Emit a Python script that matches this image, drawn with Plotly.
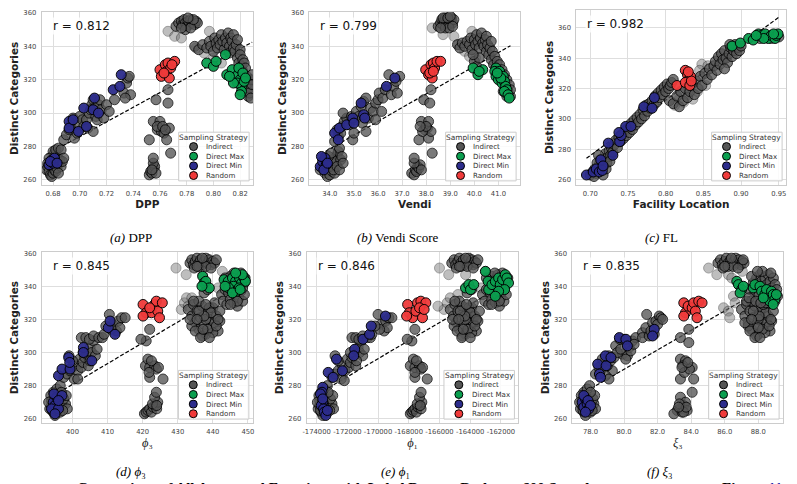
import plotly.graph_objects as go

# ---------------------------------------------------------------- data
Y_TICKS = [260, 280, 300, 320, 340, 360]
A_TICKS = [0.68, 0.70, 0.72, 0.74, 0.76, 0.78, 0.80, 0.82]
B_TICKS = [34.0, 35.0, 36.0, 37.0, 38.0, 39.0, 40.0, 41.0]
C_TICKS = [0.70, 0.75, 0.80, 0.85, 0.90, 0.95]
D_TICKS = [400, 410, 420, 430, 440, 450]
E_TICKS = [-174000, -172000, -170000, -168000, -166000, -164000, -162000]
F_TICKS = [78.0, 80.0, 82.0, 84.0, 86.0, 88.0]

STRATEGIES = ["Indirect", "Direct Max", "Direct Min", "Random"]
R_VALUES = [0.812, 0.799, 0.982, 0.845, 0.846, 0.835]
X_TITLES = ["<b>DPP</b>", "<b>Vendi</b>", "<b>Facility Location</b>",
            "<i>ϕ</i>₃", "<i>ϕ</i>₁", "<i>ξ</i>₃"]
CAPTIONS = ["<i>(a)</i> DPP", "<i>(b)</i> Vendi Score", "<i>(c)</i> FL",
            "<i>(d) ϕ</i>₃", "<i>(e) ϕ</i>₁", "<i>(f) ξ</i>₃"]

# ---- (a) DPP
A_INDIRECT = [
    (0.675, 266), (0.676, 268), (0.677, 265), (0.678, 263), (0.679, 262), (0.680, 264), (0.681, 266), (0.682, 265),
    (0.683, 267), (0.684, 270), (0.685, 272), (0.683, 274), (0.681, 276), (0.680, 277), (0.682, 278), (0.684, 279),
    (0.686, 278), (0.679, 271), (0.677, 273), (0.686, 268), (0.687, 271), (0.676, 270), (0.684, 264), (0.688, 273),
    (0.688, 284), (0.690, 287), (0.692, 290), (0.693, 293), (0.695, 297), (0.696, 285), (0.698, 288), (0.699, 294),
    (0.700, 298), (0.702, 296), (0.703, 292), (0.705, 296), (0.706, 291), (0.707, 300), (0.709, 305), (0.710, 308),
    (0.711, 303), (0.712, 298), (0.713, 296), (0.714, 305), (0.715, 308), (0.716, 302), (0.718, 297), (0.720, 305),
    (0.722, 301), (0.710, 289), (0.708, 302), (0.726, 308), (0.733, 312), (0.735, 318), (0.736, 321), (0.737, 322),
    (0.738, 311), (0.734, 309),
    (0.752, 263), (0.753, 265), (0.754, 264), (0.755, 267), (0.756, 268), (0.757, 264), (0.755, 270), (0.755, 273),
    (0.754, 266), (0.752, 284), (0.755, 295), (0.758, 290), (0.760, 295), (0.761, 289), (0.763, 288), (0.765, 284),
    (0.767, 291), (0.768, 276), (0.757, 308), (0.766, 306), (0.766, 314), (0.758, 292), (0.762, 292), (0.764, 290),
    (0.772, 352), (0.774, 354), (0.776, 355), (0.777, 353), (0.778, 356), (0.779, 354), (0.780, 352), (0.781, 355),
    (0.782, 353), (0.783, 356), (0.784, 354), (0.785, 355), (0.786, 353), (0.787, 355), (0.788, 354), (0.779, 350),
    (0.783, 351), (0.776, 351), (0.785, 356), (0.781, 357),
    (0.786, 340), (0.789, 338), (0.792, 341), (0.795, 339), (0.797, 343), (0.798, 340), (0.800, 337), (0.801, 345),
    (0.802, 342), (0.803, 339), (0.804, 344), (0.805, 341), (0.806, 347), (0.807, 343), (0.808, 338), (0.809, 345),
    (0.810, 342), (0.811, 348), (0.812, 340), (0.812, 336), (0.813, 345), (0.814, 343), (0.815, 347), (0.815, 339),
    (0.816, 337), (0.817, 341), (0.818, 344), (0.818, 333), (0.819, 330), (0.820, 338), (0.820, 335), (0.821, 328),
    (0.822, 332), (0.822, 325), (0.823, 330), (0.823, 320), (0.824, 327), (0.824, 316), (0.825, 322), (0.825, 313),
    (0.826, 318), (0.826, 310), (0.827, 315), (0.827, 312), (0.828, 320), (0.828, 309), (0.829, 317), (0.829, 323)]
A_FAINT = [(0.766, 349), (0.771, 346), (0.776, 345), (0.797, 349), (0.787, 339), (0.793, 336), (0.800, 333), (0.806, 330)]
A_MAX = [(0.795, 330), (0.800, 328), (0.802, 331), (0.809, 335), (0.810, 323), (0.814, 326), (0.817, 322), (0.819, 327),
         (0.820, 320), (0.821, 316), (0.821, 313), (0.818, 318), (0.815, 318), (0.812, 322), (0.820, 311), (0.822, 324),
         (0.823, 319), (0.824, 321)]
A_MIN = [(0.677, 269), (0.679, 272), (0.680, 270), (0.681, 273), (0.678, 271), (0.683, 270), (0.692, 295), (0.692, 291),
         (0.695, 296), (0.699, 289), (0.703, 303), (0.705, 292), (0.711, 309), (0.710, 302), (0.714, 300), (0.725, 314),
         (0.730, 316), (0.731, 323)]
A_RAND = [(0.760, 326), (0.761, 322), (0.764, 329), (0.765, 325), (0.766, 330), (0.767, 321), (0.768, 327), (0.771, 331),
          (0.763, 324), (0.769, 329)]
A_FIT = [(0.675, 275.0), (0.829, 342.5)]

# ---- (b) Vendi
B_INDIRECT = [
    (33.6, 266), (33.7, 268), (33.8, 264), (33.9, 262), (34.0, 263), (34.1, 265), (34.2, 264), (33.75, 270),
    (33.85, 272), (34.0, 268), (34.1, 270), (34.2, 273), (34.3, 275), (34.35, 277), (34.4, 279), (34.25, 271),
    (34.15, 266), (34.45, 272), (34.5, 274), (33.95, 274), (34.05, 276), (34.3, 268), (34.4, 266), (34.55, 270),
    (34.2, 283), (34.35, 286), (34.3, 290), (34.45, 288), (34.5, 292), (34.6, 295), (34.7, 297), (34.55, 300),
    (34.8, 293), (34.9, 298), (34.95, 284), (35.0, 288), (35.05, 296), (35.1, 301), (35.2, 298), (35.3, 304),
    (35.35, 294), (35.4, 307), (35.5, 309), (35.5, 289), (35.6, 297), (35.7, 303), (35.8, 301), (35.9, 296),
    (35.9, 306), (36.0, 308), (36.05, 312), (36.15, 301), (36.2, 309), (36.3, 314), (36.45, 323), (36.55, 311),
    (36.65, 316), (36.8, 312), (36.9, 322), (36.75, 319),
    (37.4, 264), (37.5, 263), (37.55, 266), (37.6, 265), (37.65, 268), (37.7, 267), (37.75, 269), (37.8, 266),
    (37.5, 270), (37.5, 273), (37.7, 284), (37.8, 295), (37.95, 290), (38.05, 291), (38.1, 295), (38.1, 285),
    (38.2, 289), (38.25, 276), (37.9, 308), (38.15, 306), (38.2, 314), (37.85, 289), (38.0, 292), (37.75, 292),
    (38.5, 352), (38.6, 354), (38.65, 356), (38.7, 353), (38.75, 355), (38.8, 357), (38.85, 354), (38.9, 356),
    (38.95, 353), (39.0, 355), (39.05, 357), (39.1, 354), (39.15, 356), (38.8, 351), (38.95, 351), (39.1, 352),
    (38.7, 357), (38.9, 357), (39.0, 358), (38.6, 351),
    (39.3, 341), (39.4, 339), (39.5, 342), (39.6, 340), (39.7, 343), (39.8, 341), (39.85, 345), (39.9, 338),
    (40.0, 344), (40.05, 341), (40.1, 347), (40.15, 343), (40.2, 339), (40.25, 345), (40.3, 348), (40.35, 342),
    (40.4, 340), (40.45, 344), (40.5, 337), (40.5, 346), (40.55, 341), (40.6, 335), (40.65, 339), (40.7, 343),
    (40.7, 332), (40.75, 337), (40.8, 329), (40.85, 334), (40.9, 327), (40.95, 331), (41.0, 325), (41.05, 329),
    (41.1, 322), (41.15, 326), (41.2, 319), (41.25, 323), (41.3, 316), (41.35, 320), (41.4, 313), (41.45, 317),
    (41.5, 310), (41.5, 314), (40.0, 331), (40.1, 328), (40.2, 333), (39.95, 335), (41.2, 313), (41.35, 310)]
B_FAINT = [(38.25, 351), (38.7, 347), (39.15, 346), (39.9, 349), (39.35, 341), (39.6, 337), (40.05, 333), (39.8, 334)]
B_MAX = [(39.95, 327), (40.15, 323), (40.35, 326), (40.2, 325), (40.9, 327), (40.85, 325), (41.0, 323), (41.05, 325),
         (40.9, 322), (41.0, 320), (41.15, 318), (41.2, 322), (41.25, 319), (41.3, 316), (41.35, 314), (41.25, 313),
         (41.4, 311), (41.45, 309), (41.1, 321), (40.95, 324)]
B_MIN = [(33.6, 268), (33.7, 271), (33.8, 273), (33.85, 269), (33.75, 266), (33.65, 274), (33.9, 270), (34.2, 288),
         (34.35, 284), (34.4, 291), (34.7, 293), (34.95, 297), (35.0, 294), (35.3, 306), (35.4, 299), (35.45, 297),
         (36.35, 316), (36.7, 321)]
B_RAND = [(37.98, 326), (38.1, 323), (38.2, 329), (38.25, 321), (38.3, 330), (38.35, 327), (38.45, 331), (38.6, 331),
          (38.15, 324), (38.3, 325)]
B_FIT = [(33.6, 275.2), (41.5, 340.4)]

# ---- (c) Facility Location
C_INDIRECT = [
    (0.700, 263), (0.703, 265), (0.706, 267), (0.708, 264), (0.710, 268), (0.712, 270), (0.714, 266), (0.716, 272),
    (0.718, 269), (0.719, 274), (0.720, 277), (0.722, 271), (0.724, 275), (0.725, 279), (0.727, 276), (0.728, 281),
    (0.730, 278), (0.713, 273), (0.709, 271), (0.705, 262), (0.717, 263), (0.721, 267), (0.711, 276), (0.726, 272),
    (0.732, 283), (0.734, 286), (0.736, 281), (0.738, 288), (0.740, 285), (0.742, 290), (0.744, 287), (0.746, 292),
    (0.748, 289), (0.750, 294), (0.752, 291), (0.754, 297), (0.756, 293), (0.758, 299), (0.760, 296), (0.762, 301),
    (0.764, 298), (0.766, 303), (0.768, 300), (0.770, 306), (0.772, 302), (0.774, 309), (0.776, 305), (0.778, 310),
    (0.780, 307), (0.782, 312), (0.784, 309), (0.786, 315), (0.788, 311), (0.790, 317), (0.792, 314), (0.794, 319),
    (0.796, 316), (0.798, 321), (0.800, 318), (0.802, 323), (0.804, 320), (0.806, 322), (0.808, 324), (0.810, 326),
    (0.805, 312), (0.810, 310), (0.815, 315), (0.818, 308), (0.820, 318), (0.823, 312), (0.826, 320), (0.829, 314),
    (0.832, 318), (0.835, 323), (0.838, 316), (0.840, 325), (0.843, 320), (0.846, 328), (0.848, 322), (0.852, 330),
    (0.855, 326), (0.858, 333), (0.861, 329), (0.864, 335),
    (0.866, 338), (0.868, 332), (0.870, 341), (0.872, 336), (0.874, 343), (0.876, 339), (0.878, 345), (0.880, 340),
    (0.882, 337), (0.884, 343), (0.886, 347), (0.888, 341), (0.890, 345), (0.892, 349), (0.894, 343), (0.896, 347),
    (0.898, 345), (0.900, 348), (0.878, 333), (0.885, 349),
    (0.925, 353), (0.930, 355), (0.935, 354), (0.940, 353), (0.945, 355), (0.950, 354)]
C_FAINT = [(0.812, 309), (0.818, 313), (0.824, 311), (0.830, 316), (0.836, 313), (0.842, 318), (0.848, 336),
           (0.845, 332), (0.853, 322), (0.856, 335)]
C_MAX = [(0.888, 348), (0.899, 350), (0.910, 353), (0.916, 352), (0.923, 356), (0.927, 355), (0.932, 356), (0.936, 353),
         (0.940, 355), (0.945, 353), (0.947, 355), (0.949, 356), (0.943, 356), (0.930, 353), (0.920, 355)]
C_MIN = [(0.695, 263), (0.704, 265), (0.708, 267), (0.712, 265), (0.716, 266), (0.714, 273), (0.717, 269), (0.730, 276),
         (0.724, 284), (0.739, 285), (0.741, 289), (0.747, 295), (0.754, 295), (0.738, 291), (0.771, 308), (0.782, 307),
         (0.785, 314)]
C_RAND = [(0.815, 322), (0.826, 332), (0.829, 329), (0.831, 326), (0.833, 328), (0.826, 324), (0.832, 322), (0.834, 325),
          (0.830, 331)]
C_FIT = [(0.695, 274.0), (0.950, 367.0)]

# ---- (d) phi_3
D_INDIRECT = [
    (393.5, 266), (394, 268), (394.5, 264), (395, 262), (395.5, 265), (396, 267), (396.5, 264), (394, 271),
    (395, 273), (396, 270), (397, 268), (398, 269), (398.5, 266), (394.5, 276), (395.5, 278), (396.5, 280),
    (393.8, 274), (397.5, 272), (398.2, 274), (393.2, 270), (396.8, 276), (395.2, 269), (394.2, 265), (397.2, 265),
    (397.5, 285), (398.5, 287), (399.3, 289), (400.5, 284), (401, 292), (401.5, 289), (402, 296), (402.5, 291),
    (403, 294), (403.5, 297), (404, 299), (404.5, 292), (405, 303), (405.5, 300), (406, 307), (406.5, 298),
    (407, 302), (401.5, 284), (402.5, 309), (403.8, 309), (404.8, 308), (406, 310), (407.5, 309), (408.5, 309),
    (409, 311), (403, 300), (405, 295), (400, 295), (399, 298), (410.5, 323), (411.5, 317), (412.5, 313),
    (413, 319), (414, 321), (415, 321), (413.5, 315), (411, 314), (409.5, 316),
    (420.5, 263), (421, 264), (421.5, 265), (422, 266), (422.5, 264), (423, 267), (423.5, 268), (424, 266),
    (424.3, 270), (422.8, 269), (423.4, 273), (423.9, 276), (422, 285), (425.8, 284), (420.8, 292), (421.5, 296),
    (422, 291), (423.4, 292), (423.9, 290), (422.5, 295), (421, 307), (422, 314), (419.5, 308), (424.5, 291),
    (421.8, 288), (424, 268),
    (433.5, 354), (434, 356), (434.5, 353), (435, 355), (435.5, 357), (436, 354), (436.5, 356), (437, 353),
    (437.5, 355), (438, 357), (438.5, 354), (439, 356), (439.5, 353), (440, 355), (440.5, 354), (434.7, 351),
    (436, 352), (438, 352), (439.5, 351), (437, 357), (441, 356), (435.5, 352),
    (433, 326), (434, 322), (434.5, 329), (435, 318), (435.5, 325), (436, 314), (436.5, 321), (437, 328),
    (437.5, 317), (438, 311), (438.5, 324), (439, 320), (439.5, 315), (440, 327), (440.5, 318), (441, 322),
    (441.5, 313), (442, 319), (436, 331), (437, 310), (438, 320), (439, 327), (440, 312), (434, 316),
    (435, 313), (436.5, 309), (438.5, 314), (439.5, 324), (441, 316), (442, 325), (437.5, 322), (434.5, 331),
    (433.5, 320), (440.5, 330), (441.5, 320), (439, 309), (436, 325), (438, 329), (435.5, 320), (437.2, 314),
    (437.5, 336), (438.5, 338),
    (442.5, 335), (443, 331), (443.5, 338), (444, 329), (444.5, 336), (445, 332), (445.5, 339), (446, 330),
    (446.5, 335), (447, 328), (447.5, 333), (448, 337), (448.5, 331), (449, 335), (444, 343), (445, 346),
    (446, 344), (447, 347), (448, 345), (449, 342), (446.5, 341), (448.5, 339), (443.5, 345), (447.5, 340),
    (445.5, 342), (449.2, 345), (447, 331), (445, 329), (448, 348), (446, 348)]
D_FAINT = [(429.5, 351), (432.4, 347), (437.1, 347), (431, 326), (431.9, 330), (442.7, 349), (432.5, 333),
           (433, 328), (434, 333), (441.5, 339)]
D_MAX = [(437.1, 346), (437.5, 342), (438, 343), (439, 339), (436.9, 340), (443.2, 344), (444.4, 343), (445.6, 345),
         (446.5, 343), (447.6, 345), (448.2, 342), (448.9, 345), (449.3, 343), (445.9, 340), (446.8, 337), (447.5, 339),
         (444.5, 339), (443.5, 340), (445.6, 336), (448.4, 347), (446.5, 348), (447.8, 338)]
D_MIN = [(394.5, 270), (395, 268), (395.5, 273), (394, 266), (396, 266), (395, 263), (394.7, 275), (397, 274),
         (396, 271), (396, 286), (397, 290), (398.9, 297), (399.3, 290), (399.2, 294), (403.1, 303), (403.1, 300),
         (405.5, 295), (410.2, 315), (410.7, 319), (412.1, 311)]
D_RAND = [(420.1, 329), (421, 324), (422.5, 324), (423.4, 329), (423.9, 331), (424.3, 325), (424.8, 321), (425.6, 330),
          (420.1, 322), (422, 327)]
D_FIT = [(393.0, 272.0), (450.0, 343.5)]

# ---- (e) phi_1
E_INDIRECT = [
    (-173900, 266), (-173800, 268), (-173700, 264), (-173600, 262), (-173500, 265), (-173400, 267), (-173300, 264),
    (-173800, 271), (-173600, 273), (-173400, 270), (-173200, 268), (-173000, 269), (-172900, 266), (-173700, 276),
    (-173500, 278), (-173300, 280), (-173850, 274), (-173100, 272), (-172950, 274), (-173950, 270), (-173250, 276),
    (-173550, 269), (-173750, 265), (-173150, 265),
    (-173000, 285), (-172800, 287), (-172600, 289), (-172400, 284), (-172300, 292), (-172150, 289), (-172000, 296),
    (-171900, 291), (-171800, 294), (-171700, 297), (-171550, 299), (-171450, 292), (-171300, 303), (-171200, 300),
    (-171100, 307), (-171000, 298), (-170900, 302), (-172200, 283), (-171700, 309), (-171450, 309), (-171250, 308),
    (-171000, 310), (-170700, 309), (-170500, 309), (-170400, 311), (-171800, 300), (-171400, 295), (-172600, 295),
    (-172800, 298), (-170000, 323), (-169800, 317), (-169600, 313), (-169500, 319), (-169300, 321), (-169100, 321),
    (-169400, 315), (-169900, 314), (-170200, 316),
    (-167900, 263), (-167800, 264), (-167700, 265), (-167600, 266), (-167500, 264), (-167400, 267), (-167300, 268),
    (-167200, 266), (-167150, 270), (-167450, 269), (-167300, 273), (-167200, 276), (-167600, 285), (-166800, 284),
    (-167900, 292), (-167700, 296), (-167600, 291), (-167300, 292), (-167200, 290), (-167500, 295), (-167800, 307),
    (-167600, 314), (-168100, 308), (-167100, 291), (-167600, 288), (-167250, 268),
    (-165200, 354), (-165050, 356), (-164950, 353), (-164800, 355), (-164700, 357), (-164600, 354), (-164450, 356),
    (-164350, 353), (-164250, 355), (-164100, 357), (-164000, 354), (-163900, 356), (-163800, 353), (-163700, 355),
    (-163600, 354), (-164900, 351), (-164600, 352), (-164200, 352), (-163800, 351), (-164300, 357), (-163500, 356),
    (-164700, 352),
    (-165300, 326), (-165100, 322), (-165000, 329), (-164900, 318), (-164800, 325), (-164700, 314), (-164600, 321),
    (-164500, 328), (-164400, 317), (-164300, 311), (-164200, 324), (-164100, 320), (-164000, 315), (-163900, 327),
    (-163800, 318), (-163700, 322), (-163600, 313), (-163500, 319), (-164700, 331), (-164500, 310), (-164300, 320),
    (-164100, 327), (-163900, 312), (-165050, 316), (-164850, 313), (-164550, 309), (-164150, 314), (-163950, 324),
    (-163700, 316), (-163400, 325), (-164350, 322), (-165000, 331), (-165150, 320), (-163800, 330), (-163600, 320),
    (-164000, 309), (-164650, 325), (-164250, 329), (-164750, 320), (-164450, 314), (-164200, 336), (-163900, 338),
    (-163200, 335), (-163050, 331), (-162950, 338), (-162800, 329), (-162700, 336), (-162600, 332), (-162450, 339),
    (-162350, 330), (-162250, 335), (-162100, 328), (-162000, 333), (-161900, 337), (-161800, 331), (-161650, 335),
    (-162800, 343), (-162600, 346), (-162400, 344), (-162200, 347), (-162000, 345), (-161700, 342), (-162200, 341),
    (-161750, 339), (-162950, 345), (-161950, 340), (-162450, 342), (-161550, 345), (-162100, 331), (-162600, 329),
    (-161900, 348), (-162400, 348)]
E_FAINT = [(-166000, 351), (-165400, 347), (-164300, 347), (-165700, 326), (-165500, 330), (-163000, 349),
           (-165300, 333), (-163300, 339), (-166100, 328), (-164800, 335)]
E_MAX = [(-164305, 339), (-164090, 341), (-163983, 338), (-163768, 341), (-163012, 349), (-162840, 343),
         (-162796, 338), (-162581, 341), (-162366, 343), (-162150, 345), (-162043, 341), (-161892, 344),
         (-161720, 347), (-161612, 345), (-161505, 342), (-161763, 338), (-162150, 337), (-162366, 334)]
E_MIN = [(-173600, 279), (-173650, 276), (-173750, 275), (-173600, 270), (-173700, 268), (-173550, 266),
         (-173500, 264), (-173400, 262), (-173600, 272), (-173300, 265), (-173246, 288), (-172923, 285),
         (-172707, 296), (-172320, 289), (-171522, 302), (-171587, 298), (-170984, 308), (-170553, 311),
         (-170445, 316), (-169519, 322)]
E_RAND = [(-168075, 329), (-167968, 324), (-167752, 321), (-167537, 325), (-167429, 330), (-167214, 331),
          (-167106, 321), (-166890, 330), (-168140, 322), (-167300, 327), (-167000, 326)]
E_FIT = [(-173900, 275.0), (-161400, 343.2)]

# ---- (f) xi_3
F_INDIRECT = [
    (77.4, 266), (77.5, 268), (77.6, 264), (77.7, 262), (77.8, 265), (77.9, 267), (78.0, 264), (77.5, 271),
    (77.7, 273), (77.9, 270), (78.1, 268), (78.2, 269), (78.3, 266), (77.6, 276), (77.8, 278), (77.95, 280),
    (77.45, 274), (78.15, 272), (78.25, 274), (77.35, 270), (78.0, 276), (77.75, 269), (77.55, 265), (78.1, 265),
    (78.3, 287), (78.6, 289), (78.8, 294), (79.1, 298), (79.5, 304), (79.75, 308), (79.9, 299), (80.2, 298),
    (80.5, 307), (80.7, 309), (80.3, 303), (80.0, 308), (81.1, 312), (81.3, 315), (81.35, 323), (81.7, 318),
    (81.9, 319), (82.1, 322), (82.2, 321), (81.8, 311), (79.3, 289), (81.1, 309), (78.5, 291), (78.9, 286),
    (79.0, 292), (79.2, 295), (79.4, 297), (79.6, 300), (79.8, 302), (80.1, 296), (80.4, 301), (80.6, 305),
    (81.5, 310), (81.6, 313), (82.0, 317), (82.3, 320), (78.7, 296), (79.1, 284),
    (83.36, 309), (83.86, 306), (83.86, 314), (83.36, 296), (83.66, 295), (83.5, 292), (84.06, 291), (83.36, 284),
    (84.15, 284), (84.06, 276), (83.36, 273), (83.17, 265), (83.36, 266), (83.56, 268), (83.66, 270), (83.76, 265),
    (82.97, 263), (83.46, 264), (83.6, 288), (83.9, 290), (83.3, 269), (83.55, 264), (83.7, 267), (83.45, 291),
    (83.8, 294), (83.25, 267),
    (85.6, 354), (85.75, 356), (85.85, 353), (86.0, 355), (86.1, 357), (86.2, 354), (86.35, 356), (86.45, 353),
    (86.55, 355), (86.65, 357), (86.75, 354), (86.85, 356), (86.95, 353), (87.05, 355), (87.15, 354), (85.9, 351),
    (86.2, 352), (86.5, 352), (86.8, 351), (86.4, 357), (87.1, 356), (86.0, 352),
    (87.0, 326), (87.2, 322), (87.3, 329), (87.4, 318), (87.5, 325), (87.6, 314), (87.7, 321), (87.8, 328),
    (87.9, 317), (88.0, 311), (88.1, 324), (88.2, 320), (88.3, 315), (88.4, 327), (88.5, 318), (88.6, 322),
    (88.7, 313), (88.8, 319), (87.6, 331), (87.9, 310), (88.0, 320), (88.2, 327), (88.4, 312), (87.4, 316),
    (87.5, 313), (87.8, 309), (88.25, 314), (88.45, 324), (88.65, 316), (88.9, 325), (88.05, 322), (87.3, 331),
    (87.2, 318), (88.6, 330), (88.75, 320), (88.1, 309), (87.7, 325), (88.3, 329), (87.6, 320), (88.0, 315),
    (87.5, 338), (87.7, 342), (87.8, 336), (87.9, 345), (88.0, 340), (88.1, 347), (88.2, 343), (88.3, 338),
    (88.4, 345), (88.5, 341), (88.6, 347), (88.7, 343), (88.8, 339), (88.9, 345), (89.0, 341), (88.05, 335),
    (88.35, 333), (88.6, 336), (88.85, 334), (87.6, 346), (88.25, 349), (88.75, 348), (87.95, 349), (89.1, 338),
    (88.45, 330), (89.0, 331), (87.45, 333), (87.85, 331), (88.15, 330), (89.15, 334)]
F_FAINT = [(85.04, 351), (85.53, 347), (86.22, 347), (86.42, 345), (85.93, 327), (86.22, 325), (86.52, 334),
           (86.62, 330), (87.05, 349), (86.3, 321)]
F_MAX = [(86.72, 343), (86.82, 341), (87.01, 338), (86.92, 336), (87.11, 340), (87.7, 339), (87.8, 341), (88.1, 340),
         (88.2, 337), (88.39, 335), (88.49, 338), (88.59, 333), (88.69, 331), (88.79, 337), (88.89, 335), (88.99, 332),
         (88.89, 329), (89.08, 335), (88.3, 333)]
F_MIN = [(77.5, 270), (77.6, 267), (77.7, 272), (77.8, 269), (77.9, 266), (77.6, 274), (77.85, 271), (78.0, 268),
         (77.7, 264), (78.43, 293), (78.53, 287), (78.6, 285), (78.93, 292), (78.89, 298), (79.22, 297), (79.72, 309),
         (80.11, 308), (80.2, 304), (81.8, 314), (81.7, 310)]
F_RAND = [(83.56, 330), (83.66, 324), (83.82, 328), (83.56, 322), (84.06, 327), (84.15, 330), (84.25, 325),
          (84.35, 321), (84.45, 331), (84.65, 330)]
F_FIT = [(77.4, 274.6), (89.2, 343.9)]

# ---------------------------------------------------------------- layout geometry (pixels)
W, H = 797, 484
FONT = "DejaVu Sans"
SERIF = "Liberation Serif, DejaVu Serif, serif"
COL_IND, COL_MAX, COL_MIN, COL_RAND = "#555555", "#0a9f4f", "#2c2c8c", "#f03a3a"

panels = [
    dict(box=(38, 251, 9, 183), xr=(0.6715, 0.8297), yr=(257.0, 360.6), ticks=A_TICKS, fmt="{:.2f}",
         sets=(A_INDIRECT, A_FAINT, A_MAX, A_MIN, A_RAND), fit=A_FIT, cap=(128, 236)),
    dict(box=(307.7, 520, 9, 183), xr=(33.15, 41.9), yr=(257.0, 360.6), ticks=B_TICKS, fmt="{:.1f}",
         sets=(B_INDIRECT, B_FAINT, B_MAX, B_MIN, B_RAND), fit=B_FIT, cap=(397, 236)),
    dict(box=(576.7, 788, 7, 183), xr=(0.6816, 0.9596), yr=(256.5, 371.8), ticks=C_TICKS, fmt="{:.2f}",
         sets=(C_INDIRECT, C_FAINT, C_MAX, C_MIN, C_RAND), fit=C_FIT, cap=(662, 236)),
    dict(box=(38.3, 250.7, 250.7, 422.7), xr=(391.3, 451.4), yr=(257.4, 360.6), ticks=D_TICKS, fmt="{:d}",
         sets=(D_INDIRECT, D_FAINT, D_MAX, D_MIN, D_RAND), fit=D_FIT, cap=(128, 471.5)),
    dict(box=(305, 518.3, 250.7, 422.7), xr=(-174646, -160862), yr=(257.4, 360.6), ticks=E_TICKS, fmt="{:d}",
         sets=(E_INDIRECT, E_FAINT, E_MAX, E_MIN, E_RAND), fit=E_FIT, cap=(394, 471.5)),
    dict(box=(572.7, 785, 250.7, 422.7), xr=(76.92, 89.48), yr=(257.4, 360.6), ticks=F_TICKS, fmt="{:.1f}",
         sets=(F_INDIRECT, F_FAINT, F_MAX, F_MIN, F_RAND), fit=F_FIT, cap=(661, 471.5)),
]


def fx(p):
    return p / W


def fy(p):
    return 1 - p / H


def unzip(pairs):
    return [p[0] for p in pairs], [p[1] for p in pairs]


fig = go.Figure()
shapes, annotations = [], []

for i, P in enumerate(panels):
    n = "" if i == 0 else str(i + 1)
    xa, ya = "x" + n, "y" + n
    L, R, T, B = P["box"]
    ind, faint, mx, mn, rnd = P["sets"]

    fxs, fys = unzip(P["fit"])
    fig.add_trace(go.Scatter(x=fxs, y=fys, mode="lines", xaxis=xa, yaxis=ya, showlegend=False,
                             hoverinfo="skip", line=dict(color="black", width=1.2, dash="4px,2px")))
    for pts, name, col, op, lw in [(faint, "Indirect", "#707070", 0.45, 0.8),
                                   (ind, "Indirect", COL_IND, 0.78, 1.0),
                                   (mx, "Direct Max", COL_MAX, 0.95, 1.0),
                                   (mn, "Direct Min", COL_MIN, 0.95, 1.0),
                                   (rnd, "Random", COL_RAND, 0.95, 1.0)]:
        xs, ys = unzip(pts)
        fig.add_trace(go.Scatter(x=xs, y=ys, mode="markers", name=name, xaxis=xa, yaxis=ya, showlegend=False,
                                 marker=dict(size=10, color=col, opacity=op,
                                             line=dict(color="black", width=lw))))

    axis_common = dict(showgrid=True, gridcolor="#dedede", gridwidth=1, zeroline=False,
                       showline=True, linecolor="#cccccc", linewidth=1, mirror=True,
                       ticks="", tickfont=dict(family=FONT, size=6.8, color="#444444"))
    if i < 3:
        xtitle = dict(text=X_TITLES[i], font=dict(family=FONT, size=10.5, color="#222222"), standoff=3)
    else:
        xtitle = dict(text=X_TITLES[i], font=dict(family=SERIF, size=12.5, color="#222222"), standoff=3)
    fig.layout["xaxis" + n] = dict(domain=[fx(L), fx(R)], range=list(P["xr"]), anchor=ya,
                                   tickvals=P["ticks"], ticktext=[P["fmt"].format(t) for t in P["ticks"]],
                                   title=xtitle, ticklabelstandoff=2, **axis_common)
    fig.layout["yaxis" + n] = dict(domain=[fy(B), fy(T)], range=list(P["yr"]), anchor=xa,
                                   tickvals=Y_TICKS, ticktext=[str(t) for t in Y_TICKS],
                                   title=dict(text="<b>Distinct Categories</b>", standoff=2,
                                              font=dict(family=FONT, size=10.5, color="#222222")),
                                   ticklabelstandoff=3, **axis_common)

    # r value
    annotations.append(dict(text="r = {:.3f}".format(R_VALUES[i]), x=fx(L + 9), y=fy(T + 13.7),
                            xref="paper", yref="paper", showarrow=False, xanchor="left", yanchor="middle",
                            font=dict(family=FONT, size=12, color="#111111"),
                            bgcolor="rgba(255,255,255,0.8)", borderpad=1))
    # caption
    cx, cy = P["cap"]
    annotations.append(dict(text=CAPTIONS[i], x=fx(cx), y=fy(cy), xref="paper", yref="paper", showarrow=False,
                            xanchor="center", yanchor="middle", borderpad=0,
                            font=dict(family=SERIF, size=13, color="black")))

    # legend box
    bl, br, bb = R - 75, R - 4, B - 4
    bt = bb - 49
    shapes.append(dict(type="rect", xref="paper", yref="paper", x0=fx(bl), x1=fx(br), y0=fy(bb), y1=fy(bt),
                       fillcolor="rgba(255,255,255,0.85)", line=dict(color="#cccccc", width=1)))
    annotations.append(dict(text="Sampling Strategy", x=fx((bl + br) / 2), y=fy(bt + 5.5), xref="paper",
                            yref="paper", showarrow=False, xanchor="center", yanchor="middle",
                            font=dict(family=FONT, size=7.4, color="#333333")))
    for k, (lab, col) in enumerate(zip(STRATEGIES, [COL_IND, COL_MAX, COL_MIN, COL_RAND])):
        iy = bt + 14.5 + k * 9.7
        shapes.append(dict(type="circle", xref="paper", yref="paper", xsizemode="pixel", ysizemode="pixel",
                           xanchor=fx(bl + 15), yanchor=fy(iy), x0=-4, x1=4, y0=-4, y1=4,
                           fillcolor=col, line=dict(color="black", width=1)))
        annotations.append(dict(text=lab, x=fx(bl + 26), y=fy(iy), xref="paper", yref="paper", showarrow=False,
                                xanchor="left", yanchor="middle", font=dict(family=FONT, size=7.1, color="#333333")))

# figure caption of the page, cut by the bottom edge (only the tops of its letters show)
annotations.append(dict(text="<b>Comparison of All Annotated Functions with Label Dataset Budget = 600 Samples.</b>",
                        x=fx(73), y=fy(488.5), xref="paper", yref="paper", showarrow=False, xanchor="left",
                        yanchor="middle", borderpad=0, font=dict(family=SERIF, size=15, color="black")))
annotations.append(dict(text="<b>Figure <span style='color:#1a1aa6'>11</span></b>",
                        x=fx(722), y=fy(488.5), xref="paper", yref="paper", showarrow=False, xanchor="left",
                        yanchor="middle", borderpad=0, font=dict(family=SERIF, size=15, color="black")))

fig.update_layout(width=W, height=H, margin=dict(l=0, r=0, t=0, b=0), paper_bgcolor="white",
                  plot_bgcolor="white", showlegend=False, shapes=shapes, annotations=annotations,
                  font=dict(family=FONT))
fig.write_html("out.html")
